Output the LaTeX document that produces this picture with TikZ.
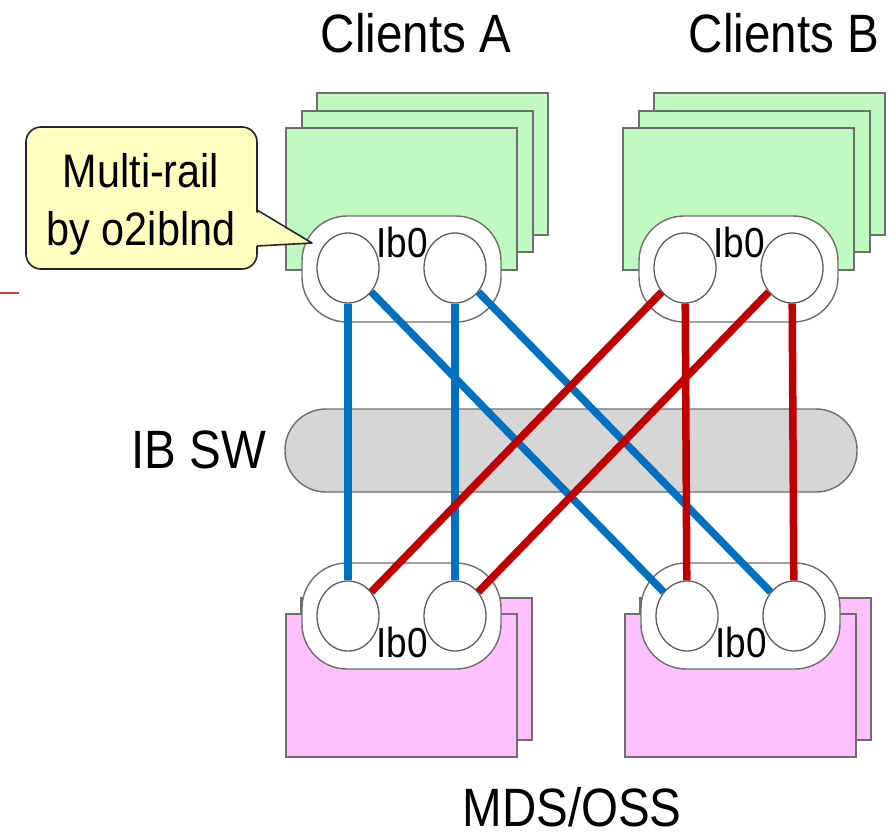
\documentclass[tikz,border=0pt]{standalone}
\usepackage{fontspec}
\setmainfont{Liberation Sans}
\newfontfamily\lab[FakeStretch=0.88]{Liberation Sans}
\usetikzlibrary{shapes.geometric}
\definecolor{cgreen}{RGB}{192,250,192}
\definecolor{cpink}{RGB}{255,192,255}
\definecolor{cgray}{RGB}{214,214,214}
\definecolor{cyel}{RGB}{255,255,192}
\definecolor{cblue}{RGB}{0,112,192}
\definecolor{cred}{RGB}{192,0,0}
\definecolor{edge}{RGB}{110,110,110}
\definecolor{artred}{RGB}{208,60,60}
\begin{document}
\begin{tikzpicture}[x=1pt,y=-1pt,
  gbox/.style={fill=cgreen,draw=edge,line width=1.5pt},
  pbox/.style={fill=cpink,draw=edge,line width=1.5pt},
  nic/.style={rectangle,rounded corners=45pt,draw=edge,fill=white,line width=1.4pt,minimum width=199pt,minimum height=106pt,inner sep=0pt},
  port/.style={ellipse,draw=edge!85!black,fill=white,line width=1.3pt,minimum width=62pt,minimum height=70pt,inner sep=0pt},
  bl/.style={cblue,line width=7.5pt},
  rd/.style={cred,line width=7.5pt},
  big/.style={font=\lab\fontsize{54}{60}\selectfont,anchor=base,inner sep=0pt},
  ib/.style={font=\lab\fontsize{42}{46}\selectfont,anchor=base,inner sep=0pt},
  cal/.style={font=\lab\fontsize{47}{52}\selectfont,anchor=base,inner sep=0pt}]
\useasboundingbox (0,0) rectangle (890,838);
% stacks
\draw[gbox] (317,93) rectangle (548,235);
\draw[gbox] (302,111) rectangle (533,252);
\draw[gbox] (286,128) rectangle (517,270);
\draw[gbox] (654,93) rectangle (885,235);
\draw[gbox] (639,111) rectangle (870,252);
\draw[gbox] (623,128) rectangle (854,270);
\draw[pbox] (301,598) rectangle (532,740);
\draw[pbox] (286,614) rectangle (517,757);
\draw[pbox] (640,598) rectangle (871,740);
\draw[pbox] (625,614) rectangle (856,757);
% switch
\node[rectangle,rounded corners=41pt,fill=cgray,draw=edge,line width=1.4pt,minimum width=572pt,minimum height=83pt,inner sep=0pt] (sw) at (571,450.5) {};
% NICs
\node[nic] (nA) at (401.5,269) {};
\node[nic] (nB) at (738.5,269) {};
\node[nic] (nC) at (401.5,616) {};
\node[nic] (nD) at (740.5,616) {};
% ports
\node[port] (a1) at (348,268) {};
\node[port] (a2) at (455,268) {};
\node[port] (b1) at (685,268) {};
\node[port] (b2) at (792,268) {};
\node[port] (c1) at (348,616) {};
\node[port] (c2) at (455,616) {};
\node[port] (d1) at (687,616) {};
\node[port] (d2) at (794,616) {};
% links
\draw[bl] (a1) -- (c1);
\draw[bl] (a2) -- (c2);
\draw[bl] (a1) -- (d1);
\draw[bl] (a2) -- (d2);
\draw[rd] (b1) -- (c1);
\draw[rd] (b2) -- (c2);
\draw[rd] (b1) -- (d1);
\draw[rd] (b2) -- (d2);
% labels
\node[ib] (tA) at (402,257) {Ib0};
\node[ib] (tB) at (739,257) {Ib0};
\node[ib] (tC) at (402,657) {Ib0};
\node[ib] (tD) at (741,657) {Ib0};
\node[big] (ca) at (416,52) {Clients A};
\node[big] (cb2) at (784,52) {Clients B};
\node[big] (sl) at (199,468) {IB SW};
\node[big] (ml) at (572,826) {MDS/OSS};
% callout
\node[rectangle,rounded corners=15pt,fill=cyel,draw=black!85,line width=1.6pt,minimum width=231pt,minimum height=142pt,inner sep=0pt] (cb) at (141.5,198) {};
\coordinate (tip) at (312,243);
\fill[cyel] (252,210) -- (tip) -- (252,246) -- cycle;
\draw[black!85,line width=1.6pt,line join=round] (257,210) -- (tip) -- (257,246);
\node[cal] (m1) at (141,187) {Multi-rail};
\node[cal] (m2) at (141,245) {by o2iblnd};
% stray mark
\draw[artred,line width=2pt] (0,293) -- (19,293);
\end{tikzpicture}
\end{document}
